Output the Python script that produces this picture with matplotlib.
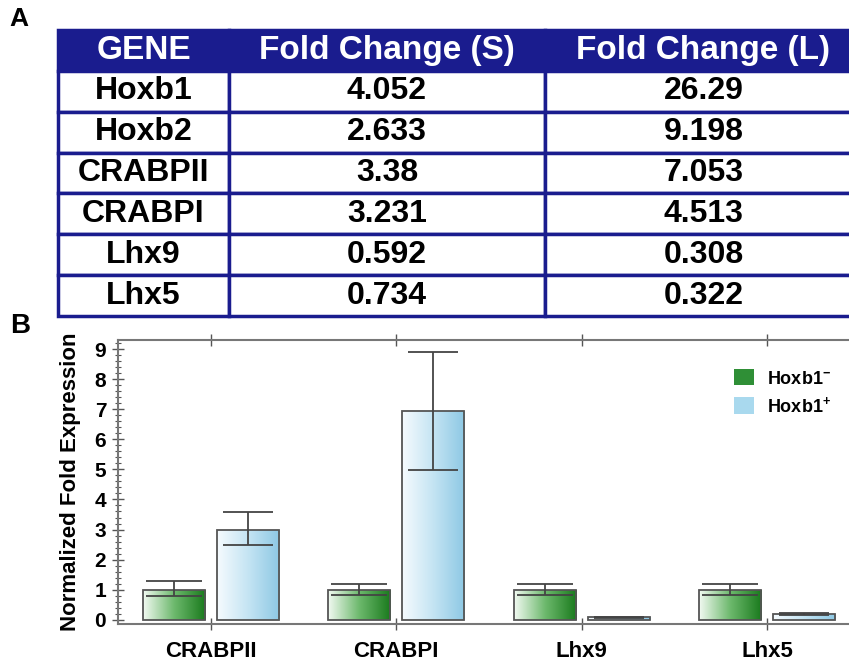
import numpy as np
import matplotlib
matplotlib.use('Agg')
import matplotlib.pyplot as plt
from matplotlib.colors import LinearSegmentedColormap
from matplotlib.patches import Patch

plt.rcParams['font.family'] = ['Liberation Sans', 'DejaVu Sans']
plt.rcParams['mathtext.fontset'] = 'custom'
plt.rcParams['mathtext.bf'] = 'Liberation Sans:bold'
plt.rcParams['mathtext.rm'] = 'Liberation Sans:bold'

# table data (panel A)
table_header = ['GENE', 'Fold Change (S)', 'Fold Change (L)']
genes = ['Hoxb1', 'Hoxb2', 'CRABPII', 'CRABPI', 'Lhx9', 'Lhx5']
fold_s = ['4.052', '2.633', '3.38', '3.231', '0.592', '0.734']
fold_l = ['26.29', '9.198', '7.053', '4.513', '0.308', '0.322']

# bar data (panel B)
categories = ['CRABPII', 'CRABPI', 'Lhx9', 'Lhx5']
neg_vals = [1.0, 1.0, 1.0, 1.0]
neg_lo = [0.22, 0.16, 0.17, 0.17]
neg_hi = [0.28, 0.20, 0.19, 0.19]
pos_vals = [3.0, 6.94, 0.08, 0.19]
pos_lo = [0.53, 1.96, 0.02, 0.03]
pos_hi = [0.59, 1.95, 0.02, 0.02]

W, H = 849, 664
fig = plt.figure(figsize=(W / 100, H / 100), dpi=100)

navy = '#1a1c8e'

# ---- panel A: table
axt = fig.add_axes([58 / W, 1 - 316 / H, (862 - 58) / W, (316 - 30) / H])
axt.axis('off')
rows = [[g, s, l] for g, s, l in zip(genes, fold_s, fold_l)]
tb = axt.table(cellText=rows, colLabels=table_header, cellLoc='center',
               bbox=[0, 0, 1, 1], colWidths=[171, 316, 317])
tb.auto_set_font_size(False)
for (r, c), cell in tb.get_celld().items():
    cell.set_edgecolor(navy)
    cell.set_linewidth(2.5)
    cell.get_text().set_fontsize(23)
    cell.get_text().set_fontweight('bold')
    if r == 0:
        cell.set_facecolor(navy)
        cell.get_text().set_color('white')
        cell.get_text().set_fontsize(24)

fig.text(9 / W, 1 - 19 / H, 'A', fontsize=19, fontweight='bold', va='center')
fig.text(10 / W, 1 - 326 / H, 'B', fontsize=20, fontweight='bold', va='center')

# ---- panel B: bars
ax = fig.add_axes([118 / W, 1 - 624 / H, (860 - 118) / W, (624 - 340) / H])
x = np.arange(len(categories))
bw = 0.335
off = 0.2

green_cm = LinearSegmentedColormap.from_list('g', ['#f2faf2', '#6cb86c', '#197a1c'])
blue_cm = LinearSegmentedColormap.from_list('b', ['#f6fbfe', '#c4e4f3', '#8dc8e4'])

b1 = ax.bar(x - off, neg_vals, bw, facecolor='none', edgecolor='#555555', lw=1.3, zorder=3)
b2 = ax.bar(x + off, pos_vals, bw, facecolor='none', edgecolor='#555555', lw=1.3, zorder=3)

grad = np.linspace(0, 1, 256).reshape(1, -1)
for bars, cm in ((b1, green_cm), (b2, blue_cm)):
    for p in bars:
        x0, y0 = p.get_x(), p.get_y()
        im = ax.imshow(grad, cmap=cm, aspect='auto', zorder=2,
                       extent=(x0, x0 + p.get_width(), y0, y0 + p.get_height()))
        im.set_clip_path(p)

ax.errorbar(x - off, neg_vals, yerr=[neg_lo, neg_hi], fmt='none', ecolor='#444444',
            elinewidth=1.3, capsize=20, capthick=1.3, zorder=4)
ax.errorbar(x + off, pos_vals, yerr=[pos_lo, pos_hi], fmt='none', ecolor='#444444',
            elinewidth=1.3, capsize=18, capthick=1.3, zorder=4)

ax.set_xlim(-0.5, 3.5)
ax.set_ylim(-0.14, 9.3)
ax.set_xticks(x)
ax.set_xticklabels(categories, fontsize=16, fontweight='bold')
ax.set_yticks(range(10))
ax.set_yticklabels([str(i) for i in range(10)], fontsize=15, fontweight='bold')
ax.set_yticks(np.arange(0, 9.3, 0.2), minor=True)
ax.tick_params(axis='y', which='major', direction='inout', length=9, width=1, color='#555555', pad=4)
ax.tick_params(axis='y', which='minor', direction='inout', length=4, width=0.8, color='#555555')
ax.tick_params(axis='x', which='major', direction='inout', length=9, width=1, color='#555555',
               top=True, pad=8)
for s in ax.spines.values():
    s.set_color('#777777')
    s.set_linewidth(1.5)
ax.set_ylabel('Normalized Fold Expression', fontsize=16, fontweight='bold', labelpad=10)

handles = [Patch(facecolor='#2f8f36', edgecolor='none'),
           Patch(facecolor='#a9d9ee', edgecolor='none')]
ax.legend(handles, [r'Hoxb1$^{-}$', r'Hoxb1$^{+}$'], loc='upper left',
          bbox_to_anchor=(718 / W, 1 - 353 / H), bbox_transform=fig.transFigure,
          frameon=False, prop={'weight': 'bold', 'size': 13}, handlelength=1.1,
          handleheight=1.0, handletextpad=0.7, labelspacing=0.45)

fig.savefig('out.png', dpi=100)
